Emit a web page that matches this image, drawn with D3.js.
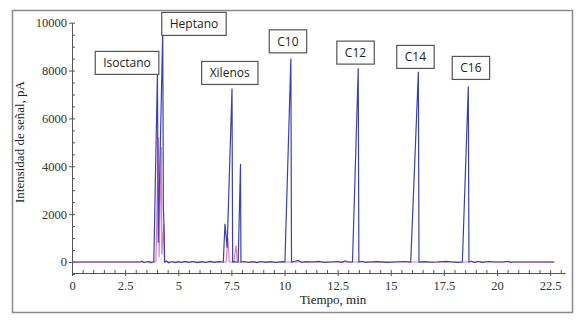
<!DOCTYPE html>
<html>
<head>
<meta charset="utf-8">
<title>Cromatograma</title>
<script src="https://d3js.org/d3.v7.min.js"></script>
<style>
  body { margin: 0; background: #fff; }
  svg { display: block; }
  .axis path, .axis line { stroke: #555; }
  .title { font-family: "Liberation Serif", "DejaVu Serif", serif; font-size: 13px; fill: #222; }
  .lbl text { font-family: "Open Sans", "Liberation Sans", sans-serif; font-size: 12px; fill: #222; }
</style>
</head>
<body>
<div id="chart"></div>
<script>
// tick labels
var xTicks = [0, 2.5, 5, 7.5, 10, 12.5, 15, 17.5, 20, 22.5];
var yTicks = [0, 2000, 4000, 6000, 8000, 10000];

// blue trace: [tiempo min, senal pA]
var blueTrace = [
  [0, 0], [3.2, 0], [3.3, 30], [3.38, -20], [3.5, 0], [3.62, 25], [3.7, -30], [3.8, 0],
  [3.85, 0], [4.02, 7900], [4.06, 800], [4.27, 9650], [4.3, 2300], [4.33, 1500], [4.36, 0],
  [4.45, 40], [4.55, -30], [4.7, 20], [4.85, -25], [5.0, 15], [5.15, -20], [5.3, 25],
  [5.5, -15], [5.7, 20], [5.9, -25], [6.1, 15], [6.3, -20], [6.5, 25], [6.7, -15],
  [6.9, 15], [7.05, 0], [7.12, 0], [7.2, 1600], [7.3, 600], [7.53, 7250], [7.56, 0],
  [7.65, 15], [7.75, -10], [7.82, 0], [7.93, 4100], [7.95, 0], [8.1, 20], [8.3, -20],
  [8.5, 15], [8.7, -25], [8.9, 20], [9.1, -15], [9.3, 15], [9.6, -20], [9.9, 15],
  [10.02, 0], [10.3, 8500], [10.33, 0], [10.5, 30], [10.65, 70], [10.8, -20], [11.0, 15],
  [11.3, 0], [11.6, 25], [11.9, -20], [12.2, 0], [12.5, 20], [12.7, -15], [12.85, 50],
  [13.0, 0], [13.2, 0], [13.47, 8100], [13.5, 0], [13.65, 30], [13.8, -20], [14.0, 0],
  [14.4, 15], [14.8, -15], [15.2, 0], [15.6, 20], [15.94, 0], [16.3, 7950], [16.33, 0],
  [16.6, 15], [16.9, -10], [17.2, 0], [17.6, 25], [17.9, 0], [18.1, -15], [18.37, 0],
  [18.65, 7330], [18.68, 0], [18.8, 40], [18.95, -25], [19.1, 30], [19.3, -15], [19.6, 20],
  [19.9, 0], [20.3, 0], [20.55, 30], [20.65, -25], [20.75, 0], [22.7, 0]
];

// pink trace
var pinkTrace = [
  [0, 0], [3.95, 0], [4.07, 5200], [4.1, 200], [4.2, 4800], [4.23, 300], [4.32, 1600],
  [4.35, 0], [7.25, 0], [7.34, 1000], [7.4, 0], [7.62, 0], [7.72, 700], [7.78, 0], [22.7, 0]
];

// peak labels: [name, tiempo, senal] (centre of the box)
var peakNames = ["Isoctano", "Heptano", "Xilenos", "C10", "C12", "C14", "C16"];
var peakAt = [[2.59, 8320], [5.74, 9950], [7.42, 7900], [10.16, 9220], [13.34, 8750], [16.16, 8570], [18.77, 8110]];

var width = 588, height = 330;

var svg = d3.select("#chart").append("svg")
  .attr("width", width)
  .attr("height", height);

// outer frame
svg.append("rect")
  .attr("x", 12.5).attr("y", 10.5)
  .attr("width", 560).attr("height", 302)
  .attr("fill", "#fff")
  .attr("stroke", "#8a8a8a")
  .attr("stroke-width", 1.5);

var x = d3.scaleLinear().domain([0, 23.2]).range([72, 565]);
var y = d3.scaleLinear().domain([-460, 10000]).range([273, 22.7]);

function styleTicks(g) {
  g.selectAll(".tick text")
    .style("font-family", "'Liberation Serif', 'Times New Roman', serif")
    .style("font-size", "12.5px")
    .attr("fill", "#333");
}

// x axis
svg.append("g")
  .attr("class", "axis")
  .attr("transform", "translate(0," + 273 + ")")
  .call(d3.axisBottom(x).tickValues(xTicks).tickSize(3).tickSizeOuter(0)
    .tickFormat(function(d) { return d; }))
  .call(styleTicks)
  .selectAll(".tick text").attr("dy", "0.85em");

svg.append("g")
  .attr("class", "axis")
  .attr("transform", "translate(0," + 273 + ")")
  .call(d3.axisTop(x).tickValues(d3.range(0, 23.01, 0.5)).tickSize(3).tickFormat(""))
  .select(".domain").remove();

// y axis
svg.append("g")
  .attr("class", "axis")
  .attr("transform", "translate(" + 72 + ",0)")
  .call(d3.axisLeft(y).tickValues(yTicks).tickSize(3).tickSizeOuter(0).tickPadding(2)
    .tickFormat(d3.format("d")))
  .call(styleTicks);

svg.append("g")
  .attr("class", "axis")
  .attr("transform", "translate(" + 72 + ",0)")
  .call(d3.axisRight(y).tickValues(d3.range(-500, 10001, 500)).tickSize(3).tickFormat(""))
  .select(".domain").remove();

// traces
var line = d3.line()
  .x(function(d) { return x(d[0]); })
  .y(function(d) { return y(d[1]); });

svg.append("path")
  .datum(pinkTrace)
  .attr("d", line)
  .attr("fill", "none")
  .attr("stroke", "#e07cc4")
  .attr("stroke-width", 1.2);

svg.append("path")
  .datum(blueTrace)
  .attr("d", line)
  .attr("fill", "none")
  .attr("stroke", "#3b40b4")
  .attr("stroke-width", 1.2);

// peak label boxes
var lbl = svg.selectAll(".lbl")
  .data(peakNames)
  .enter()
  .append("g")
  .attr("class", "lbl")
  .attr("transform", function(d, i) {
    return "translate(" + x(peakAt[i][0]) + "," + y(peakAt[i][1]) + ")";
  });

lbl.append("text")
  .attr("text-anchor", "middle")
  .attr("dy", "0.35em")
  .text(function(d) { return d; });

lbl.each(function() {
  var g = d3.select(this);
  var b = g.select("text").node().getBBox();
  g.insert("rect", "text")
    .attr("x", b.x - 8)
    .attr("y", -11.5)
    .attr("width", b.width + 16)
    .attr("height", 23)
    .attr("fill", "#fff")
    .attr("stroke", "#555")
    .attr("stroke-width", 1.2);
});

// axis titles
svg.append("text")
  .attr("class", "title")
  .attr("x", 333)
  .attr("y", 304)
  .attr("text-anchor", "middle")
  .text("Tiempo, min");

svg.append("text")
  .attr("class", "title")
  .attr("transform", "translate(24,142) rotate(-90)")
  .attr("text-anchor", "middle")
  .text("Intensidad de señal, pA");
</script>
</body>
</html>
